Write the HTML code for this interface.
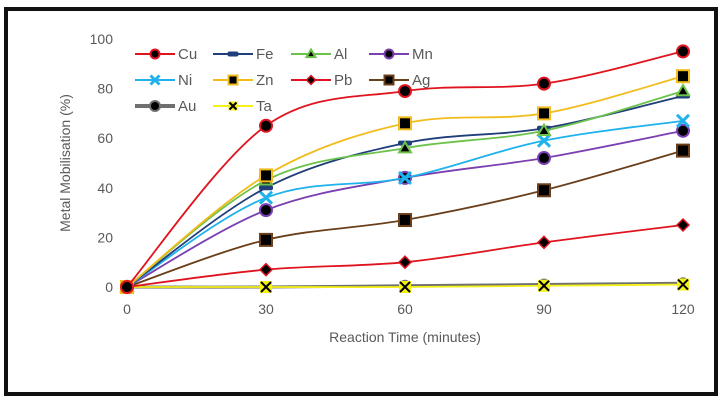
<!DOCTYPE html>
<html><head><meta charset="utf-8"><style>
html,body{margin:0;padding:0;background:#fff;}
svg{display:block;font-family:"Liberation Sans",sans-serif;}
</style></head><body>
<svg id="chart" width="727" height="404" viewBox="0 0 727 404">
<rect x="6" y="9" width="710" height="385" fill="#fff" stroke="#111" stroke-width="4"/>
<g id="yticks"></g>
<g id="xticks"></g>
<text transform="translate(70,163) rotate(-90)" text-anchor="middle" font-size="14" fill="#595959">Metal Mobilisation (%)</text>
<text x="405" y="342" text-anchor="middle" font-size="14" fill="#595959">Reaction Time (minutes)</text>
<g id="series"></g>
<g id="legend"></g>
</svg>
<script>
const times=[0,30,60,90,120];
const yTicks=[0,20,40,60,80,100];
const names=["Cu","Fe","Al","Mn","Ni","Zn","Pb","Ag","Au","Ta"];
const cu=[0,65,79,82,95];
const fe=[0,40,58,64,77];
const al=[0,43,56,63,79];
const mn=[0,31,44,52,63];
const ni=[0,36,44,59,67];
const zn=[0,45,66,70,85];
const pb=[0,7,10,18,25];
const ag=[0,19,27,39,55];
const au=[0,0,0.5,1,1.5];
const ta=[0,0,0,0.5,1];
const vals=[cu,fe,al,mn,ni,zn,pb,ag,au,ta];
const colors=["#e0141e","#1f3e7a","#6cc24a","#7a3fb0","#1fb2ec","#f2bc1c","#e0141e","#6a3f1a","#707070","#f3f01a"];
const marks=["circle","dash","tri","circle","x","square","diamond","square","circle","xcircle"];
const X=t=>127+t*(556/120), Y=v=>287-v*2.48;
const NS="http://www.w3.org/2000/svg";
function mk(tag,attrs,parent){const e=document.createElementNS(NS,tag);for(const k in attrs)e.setAttribute(k,attrs[k]);parent.appendChild(e);return e;}
const yg=document.getElementById('yticks'), xg=document.getElementById('xticks');
yTicks.forEach(v=>{const t=mk('text',{x:113,y:Y(v)+5,'text-anchor':'end','font-size':14,fill:'#595959'},yg);t.textContent=v;

});
times.forEach(v=>{const t=mk('text',{x:X(v),y:314,'text-anchor':'middle','font-size':14,fill:'#595959'},xg);t.textContent=v;

});
function smooth(pts){let d=`M${pts[0][0]},${pts[0][1]}`;for(let i=0;i<pts.length-1;i++){const p0=pts[Math.max(0,i-1)],p1=pts[i],p2=pts[i+1],p3=pts[Math.min(pts.length-1,i+2)];const c1=[p1[0]+(p2[0]-p0[0])/6,p1[1]+(p2[1]-p0[1])/6],c2=[p2[0]-(p3[0]-p1[0])/6,p2[1]-(p3[1]-p1[1])/6];d+=` C${c1[0]},${c1[1]} ${c2[0]},${c2[1]} ${p2[0]},${p2[1]}`;}return d;}
function marker(g,type,x,y,c,s){
 if(type==="circle")mk('circle',{cx:x,cy:y,r:s,fill:'#000',stroke:c,'stroke-width':2},g);
 else if(type==="dash")mk('rect',{x:x-s-1,y:y-2.5,width:2*s+2,height:5,rx:2,fill:c},g);
 else if(type==="tri")mk('polygon',{points:`${x},${y-s} ${x-s},${y+s*0.7} ${x+s},${y+s*0.7}`,fill:'#000',stroke:c,'stroke-width':2},g);
 else if(type==="x"){mk('path',{d:`M${x-s},${y-s}L${x+s},${y+s}M${x+s},${y-s}L${x-s},${y+s}`,stroke:c,'stroke-width':3},g);}
 else if(type==="square")mk('rect',{x:x-s,y:y-s,width:2*s,height:2*s,fill:'#000',stroke:c,'stroke-width':2},g);
 else if(type==="diamond")mk('polygon',{points:`${x},${y-s} ${x+s},${y} ${x},${y+s} ${x-s},${y}`,fill:'#000',stroke:c,'stroke-width':1.5},g);
 else if(type==="xcircle"){mk('rect',{x:x-s,y:y-s,width:2*s,height:2*s,fill:c},g);mk('path',{d:`M${x-s+1},${y-s+1}L${x+s-1},${y+s-1}M${x+s-1},${y-s+1}L${x-s+1},${y+s-1}`,stroke:'#000','stroke-width':2},g);}
}
const sg=document.getElementById('series');
const order=[8,9,6,7,3,4,1,2,5,0];
order.forEach(i=>{
 const g=mk('g',{},sg);
 
 
 const pts=times.map((t,j)=>[X(t),Y(vals[i][j])]);
 mk('path',{d:smooth(pts),fill:'none',stroke:colors[i],'stroke-width':names[i]==="Au"?3:1.8},g);
 pts.forEach(p=>marker(g,marks[i],p[0],p[1],colors[i],names[i]==="Au"?5:6));
});
const lg=document.getElementById('legend');
names.forEach((n,i)=>{
 const col=i%4,row=Math.floor(i/4);
 const x=135+col*78,y=54+row*26;
 const g=mk('g',{},lg);
 
 
 mk('line',{x1:x,y1:y,x2:x+40,y2:y,stroke:colors[i],'stroke-width':n==="Au"?4:2},g);
 marker(g,marks[i],x+20,y,colors[i],n==="Au"?5:4.5);
 const t=mk('text',{x:x+43,y:y+5,'font-size':15,fill:'#595959'},g);t.textContent=n;
});
</script>
</body></html>
